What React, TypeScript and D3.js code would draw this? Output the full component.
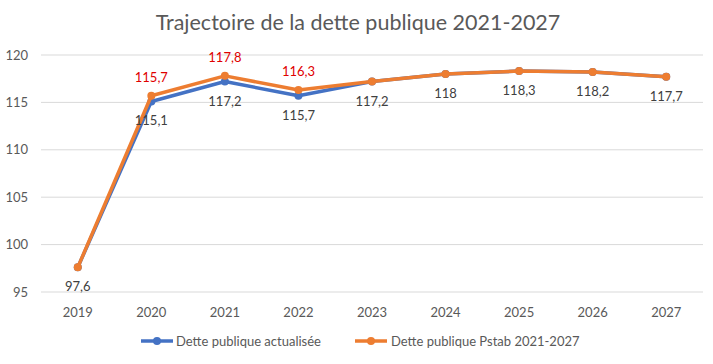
import React from "react";
import { scaleBand, scaleLinear, line } from "d3";

const years = ["2019", "2020", "2021", "2022", "2023", "2024", "2025", "2026", "2027"];
const actualisee = [97.6, 115.1, 117.2, 115.7, 117.2, 118, 118.3, 118.2, 117.7];
const pstab = [97.6, 115.7, 117.8, 116.3, 117.2, 118, 118.3, 118.2, 117.7];
const yTicks = [95, 100, 105, 110, 115, 120];
// only these years get a red label for the Pstab series
const pstabLabelled = ["2020", "2021", "2022"];

const BLUE = "#4472C4";
const ORANGE = "#ED7D31";
const GREY = "#595959";
const FONT = "Lato, 'Liberation Sans', sans-serif";

const fmt = (v: number) => String(v).replace(".", ",");

export default function App() {
  const width = 713;
  const height = 364;
  const margin = { top: 55, right: 10, bottom: 72, left: 41 };
  const innerWidth = width - margin.left - margin.right;
  const innerHeight = height - margin.top - margin.bottom;

  const xScale = scaleBand().domain(years).range([0, innerWidth]);
  const yScale = scaleLinear().domain([95, 120]).range([innerHeight, 0]);
  const cx = (y: string) => (xScale(y) ?? 0) + xScale.bandwidth() / 2;

  const path = line<number>()
    .x((_, i) => cx(years[i]))
    .y((d) => yScale(d));

  return (
    <svg
      width={width}
      height={height}
      style={{ position: "absolute", left: 0, top: 0, fontFamily: FONT }}
    >
      <rect width={width} height={height} fill="#fff" />
      <text x={358} y={30} textAnchor="middle" fontSize={21.5} fill={GREY}>
        Trajectoire de la dette publique 2021-2027
      </text>
      <g transform={`translate(${margin.left},${margin.top})`}>
        {yTicks.map((t) => (
          <g key={t}>
            <line x1={0} x2={innerWidth} y1={yScale(t)} y2={yScale(t)} stroke="#d9d9d9" />
            <text x={-13} y={yScale(t)} dy="0.35em" textAnchor="end" fontSize={13} fill={GREY}>
              {t}
            </text>
          </g>
        ))}
        {years.map((y) => (
          <text key={y} x={cx(y)} y={innerHeight + 25} textAnchor="middle" fontSize={13} fill={GREY}>
            {y}
          </text>
        ))}

        <path d={path(actualisee) ?? ""} fill="none" stroke={BLUE} strokeWidth={3.5} strokeLinejoin="round" />
        {actualisee.map((v, i) => (
          <circle key={i} cx={cx(years[i])} cy={yScale(v)} r={4} fill={BLUE} />
        ))}
        <path d={path(pstab) ?? ""} fill="none" stroke={ORANGE} strokeWidth={3.5} strokeLinejoin="round" />
        {pstab.map((v, i) => (
          <circle key={i} cx={cx(years[i])} cy={yScale(v)} r={4} fill={ORANGE} />
        ))}

        {actualisee.map((v, i) => (
          <text
            key={i}
            x={cx(years[i])}
            y={yScale(v) + 24}
            textAnchor="middle"
            fontSize={13}
            fill="#404040"
          >
            {fmt(v)}
          </text>
        ))}
        {pstab.map((v, i) =>
          pstabLabelled.includes(years[i]) ? (
            <text
              key={i}
              x={cx(years[i])}
              y={yScale(v) - 14}
              textAnchor="middle"
              fontSize={13}
              fill="#E00000"
            >
              {fmt(v)}
            </text>
          ) : null
        )}
      </g>

      <g transform="translate(141,341)">
        <line x1={0} x2={32} y1={0} y2={0} stroke={BLUE} strokeWidth={3.5} />
        <circle cx={16} cy={0} r={4} fill={BLUE} />
        <text x={35} y={0} dy="0.35em" fontSize={13} fill={GREY}>
          Dette publique actualisée
        </text>
      </g>
      <g transform="translate(355,341)">
        <line x1={0} x2={32} y1={0} y2={0} stroke={ORANGE} strokeWidth={3.5} />
        <circle cx={16} cy={0} r={4} fill={ORANGE} />
        <text x={36} y={0} dy="0.35em" fontSize={13} fill={GREY}>
          Dette publique Pstab 2021-2027
        </text>
      </g>
    </svg>
  );
}
